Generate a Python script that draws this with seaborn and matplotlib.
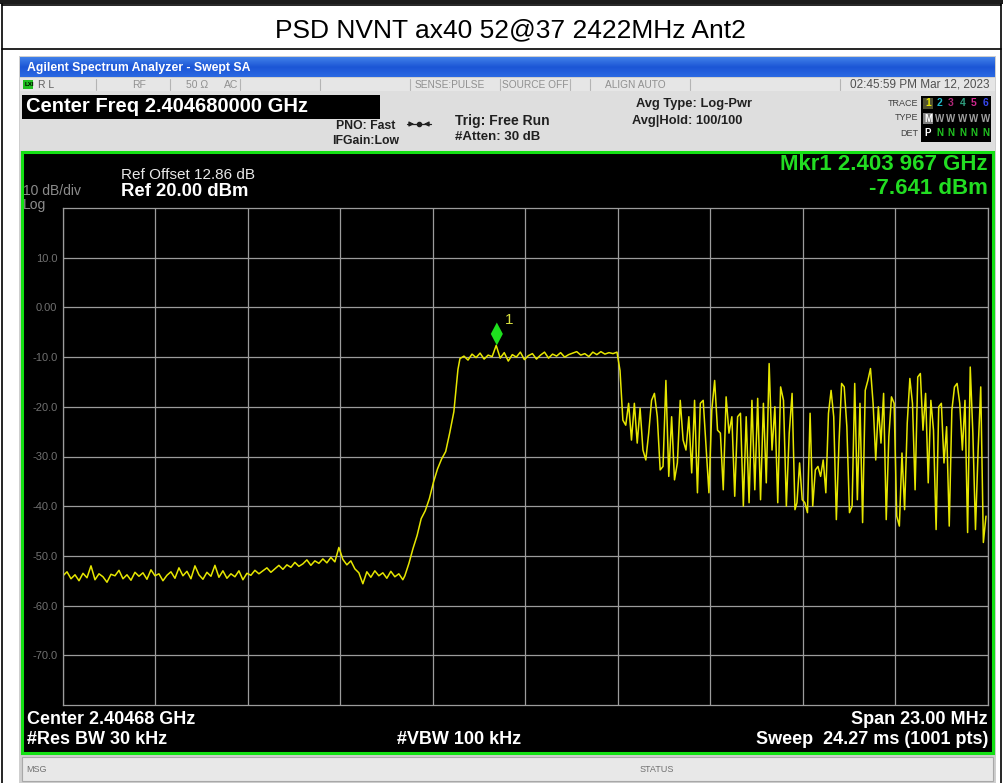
"""Agilent swept SA screenshot: PSD NVNT ax40 52@37 2422MHz Ant2"""
import numpy as np
import pandas as pd
import seaborn as sns
import matplotlib.pyplot as plt
from matplotlib.colors import LinearSegmentedColormap
from matplotlib.patches import Rectangle, Polygon

# ---- instrument settings / readouts
center_ghz = 2.40468
span_mhz = 23.0
ref_dbm = 20.0
db_per_div = 10.0
mkr_freq_ghz = 2.403967
mkr_dbm = -7.641
ytick_vals = [10, 0, -10, -20, -30, -40, -50, -60, -70]
ytick_labels = ['10.0', '0.00', '-10.0', '-20.0', '-30.0', '-40.0', '-50.0', '-60.0', '-70.0']

# ---- trace (offset from center in MHz, level in dBm)
floor_mhz = (-11.5, -3.05)
floor_dbm = [-54.0, -53.2, -54.6, -53.8, -55.0, -53.5, -54.4, -52.0, -54.8, -53.6,
             -54.2, -55.3, -53.7, -54.0, -52.9, -54.6, -53.8, -54.9, -53.3, -54.1,
             -53.4, -54.7, -52.8, -54.0, -53.6, -55.0, -53.9, -53.2, -54.5, -52.4,
             -54.0, -53.1, -54.6, -52.0, -53.8, -54.7, -53.3, -54.1, -51.9, -54.3,
             -53.0, -54.5, -53.6, -54.2, -53.0, -54.8, -53.5, -53.9, -52.9, -53.6,
             -53.0, -52.4, -53.3, -52.6, -51.9, -52.7, -51.8, -52.3, -51.3, -52.1,
             -51.6, -50.8, -51.9, -51.0, -51.5, -50.6, -51.4, -50.3, -51.2, -48.3,
             -50.7, -51.8, -51.0, -52.6, -53.4, -55.6, -53.2, -54.3, -53.0, -54.0,
             -53.4, -54.5, -53.1, -54.2, -53.6, -54.8]
rise_mhz = (-3.0, -1.68)
rise_dbm = [-54.0, -51.5, -48.5, -45.9, -42.5, -40.9, -38.5, -35.2, -32.5, -30.5,
            -29.0, -25.2, -21.0, -12.5]
top_mhz = (-1.63, 2.275)
top_dbm = [-10.3, -9.8, -10.6, -9.4, -10.1, -9.2, -10.4, -9.6, -9.9, -7.641,
           -10.2, -9.1, -10.8, -9.5, -10.0, -9.0, -10.5, -9.7, -9.3, -10.4,
           -9.6, -9.0, -10.2, -9.4, -9.8, -9.1, -10.0, -9.5, -9.2, -8.9,
           -9.6, -9.3, -9.9, -9.0, -9.5, -8.9, -9.4, -9.1, -9.3, -9.0]
skirt1_mhz = (2.35, 6.70)
skirt1_dbm = [-12.7, -22.7, -23.7, -19.3, -26.7, -19.3, -27.3, -20.3, -28.7, -30.7,
              -25.3, -18.7, -17.3, -22.0, -32.7, -32.0, -14.7, -34.0, -22.0, -34.7,
              -31.3, -18.7, -26.7, -28.7, -22.0, -33.3, -18.7, -37.3, -19.3, -18.7,
              -28.0, -37.3, -20.7, -14.7, -24.7, -25.3, -36.7, -18.0, -25.3, -22.0,
              -38.0, -22.0, -21.3, -40.0, -22.0, -39.3, -18.7, -36.7, -18.3, -38.7,
              -19.3, -35.3, -11.3, -28.7, -20.0, -39.3, -16.0, -18.7, -40.0, -25.3,
              -17.3, -40.7]
skirt2_mhz = (6.75, 11.45)
skirt2_dbm = [-39.3, -31.3, -38.7, -39.3, -41.3, -21.3, -40.0, -32.7, -32.0, -34.0,
              -30.7, -37.3, -21.3, -16.7, -22.0, -42.7, -27.3, -15.3, -16.0, -24.0,
              -41.3, -40.0, -15.3, -38.7, -19.3, -43.3, -16.7, -14.7, -12.3, -19.3,
              -30.7, -20.0, -27.3, -17.3, -42.7, -26.0, -18.0, -19.3, -42.0, -44.0,
              -29.3, -40.7, -23.3, -14.3, -19.3, -36.7, -14.0, -13.3, -24.7, -17.3,
              -35.3, -18.7, -24.7, -44.7, -20.0, -19.3, -31.3, -24.0, -44.0, -20.7,
              -16.0, -15.3, -19.3, -28.7, -18.7, -45.3, -12.0, -25.3, -44.7, -28.7,
              -16.0, -47.3, -42.0]

segments = [(floor_mhz, floor_dbm), (rise_mhz, rise_dbm), (top_mhz, top_dbm),
            (skirt1_mhz, skirt1_dbm), (skirt2_mhz, skirt2_dbm)]
freq = np.concatenate([np.linspace(a, b, len(v)) for (a, b), v in segments])
level = np.concatenate([v for _, v in segments])
trace = pd.DataFrame({'offset_mhz': freq, 'dbm': level})

sns.set_theme(style='dark')
plt.rcParams['font.family'] = ['Liberation Sans', 'DejaVu Sans']

W, H = 1004, 783
fig = plt.figure(figsize=(W / 100, H / 100), dpi=100)
fig.patch.set_facecolor('white')
ui = fig.add_axes([0, 0, 1, 1])
ui.set_xlim(0, W)
ui.set_ylim(H, 0)
ui.axis('off')


def box(x0, y0, x1, y1, fc, ec='none', lw=0, z=1):
    ui.add_patch(Rectangle((x0, y0), x1 - x0, y1 - y0, fc=fc, ec=ec, lw=lw, zorder=z))


def txt(x, y, s, size=8, color='black', ha='left', weight='normal', **kw):
    ui.text(x, y, s, fontsize=size, color=color, ha=ha, va='center',
            fontweight=weight, zorder=5, **kw)


# document table around the screenshot
box(0, 0, W, 4, '#1c1c1c')
ui.plot([2, 2], [4, H], color='black', lw=1.2)
ui.plot([1001, 1001], [4, H], color='black', lw=1.2)
ui.plot([2, 1001], [5, 5], color='black', lw=1.2)
ui.plot([2, 1001], [49, 49], color='black', lw=1.2)
txt(510, 30, 'PSD NVNT ax40 52@37 2422MHz Ant2', size=19, ha='center')

# screenshot window
box(19, 56, 996, 783, '#cfcfcf')
grad = np.linspace(0, 1, 20)[:, None]
bar_cmap = LinearSegmentedColormap.from_list('bar', ['#3f7fe8', '#1c56d6', '#2a68e2'])
ui.imshow(grad, extent=(20, 995, 77, 57), cmap=bar_cmap, aspect='auto', zorder=2)
txt(27, 68, 'Agilent Spectrum Analyzer - Swept SA', size=8.8, color='white', weight='bold')

# status row
box(20, 78, 995, 91, '#e6e6e6')
for sx in [96, 170, 240, 320, 410, 500, 570, 590, 690, 840]:
    ui.plot([sx, sx], [79, 90], color='#b4b4b4', lw=0.8, zorder=3)
box(23, 80, 33, 89, '#20c020', z=3)
txt(24.5, 84.5, 'LXI', size=4.5, color='black', weight='bold')
txt(38, 84.5, 'R L', size=7.5, color='#606060')
txt(132, 84.5, 'RF', size=7.5, color='#909090')
txt(186, 84.5, '50 Ω', size=7.5, color='#909090')
txt(224, 84.5, 'AC', size=7.5, color='#909090')
txt(415, 84.5, 'SENSE:PULSE', size=7.3, color='#909090')
txt(502, 84.5, 'SOURCE OFF', size=7.3, color='#909090')
txt(605, 84.5, 'ALIGN AUTO', size=7.3, color='#909090')
txt(990, 84.5, '02:45:59 PM Mar 12, 2023', size=8.5, color='#505050', ha='right')

# header panel
box(20, 91, 995, 151, '#dedede')
box(22, 95, 380, 119, 'black', z=3)
txt(26, 107, 'Center Freq 2.404680000 GHz', size=14.5, color='white', weight='bold')
txt(336, 126, 'PNO: Fast', size=8.8, color='#202020', weight='bold')
txt(332, 141, 'IFGain:Low', size=8.8, color='#202020', weight='bold')
ui.plot([407, 431], [124, 124], color='#202020', lw=0.9, zorder=5)
ui.plot([419], [124], marker='o', ms=3, color='#202020', zorder=5)
ui.annotate('', xy=(417, 124), xytext=(407, 124),
            arrowprops=dict(arrowstyle='-|>', color='#202020', lw=0.9, mutation_scale=7), zorder=5)
ui.annotate('', xy=(421, 124), xytext=(431, 124),
            arrowprops=dict(arrowstyle='-|>', color='#202020', lw=0.9, mutation_scale=7), zorder=5)
txt(455, 121, 'Trig: Free Run', size=10, color='#202020', weight='bold')
txt(455, 137, '#Atten: 30 dB', size=9.5, color='#202020', weight='bold')
txt(636, 104, 'Avg Type: Log-Pwr', size=9.3, color='#202020', weight='bold')
txt(632, 121, 'Avg|Hold: 100/100', size=9.3, color='#202020', weight='bold')

box(921, 96, 991, 142, 'black', z=3)
txt(918, 103, 'TRACE', size=6.5, color='#404040', ha='right')
txt(918, 118, 'TYPE', size=6.5, color='#404040', ha='right')
txt(918, 133, 'DET', size=6.5, color='#404040', ha='right')
trace_digits = ['1', '2', '3', '4', '5', '6']
digit_colors = ['#e8e800', '#20b8c8', '#b02878', '#30a080', '#d02890', '#3848f0']
type_letters = ['M', 'W', 'W', 'W', 'W', 'W']
det_letters = ['P', 'N', 'N', 'N', 'N', 'N']
box(923, 98, 933, 109, '#505030', z=4)
box(923, 113, 933, 124, '#808080', z=4)
for i, (d, c, t, dt) in enumerate(zip(trace_digits, digit_colors, type_letters, det_letters)):
    cx = 928 + i * 11.5
    txt(cx, 103.5, d, size=7.5, color=c, ha='center', weight='bold')
    txt(cx, 118.5, t, size=7, color='white' if i == 0 else '#a0a0a0', ha='center', weight='bold')
    txt(cx, 133.5, dt, size=7, color='white' if i == 0 else '#20c020', ha='center', weight='bold')

# display area with green frame
box(22, 152, 993, 753, 'black', ec='#14e014', lw=2.2, z=2)
txt(121, 175, 'Ref Offset 12.86 dB', size=11, color='#e8e8e8')
txt(121, 192, 'Ref 20.00 dBm', size=13.3, color='white', weight='bold')
txt(23, 191, '10 dB/div', size=10, color='#8c8c8c')
txt(23, 205, 'Log', size=10, color='#8c8c8c')
txt(988, 165, 'Mkr1 2.403 967 GHz', size=16, color='#22dd22', ha='right', weight='bold')
txt(988, 188, f'{mkr_dbm:.3f} dBm', size=16, color='#22dd22', ha='right', weight='bold')
txt(27, 719, f'Center {center_ghz:.5f} GHz', size=13, color='white', weight='bold')
txt(27, 740, '#Res BW 30 kHz', size=13, color='white', weight='bold')
txt(397, 740, '#VBW 100 kHz', size=13, color='white', weight='bold')
txt(988, 719, f'Span {span_mhz:.2f} MHz', size=13, color='white', ha='right', weight='bold')
txt(988, 740, 'Sweep  24.27 ms (1001 pts)', size=13, color='white', ha='right', weight='bold')

# message bar
box(22, 757, 993, 781, '#e8e8e8', ec='#a8a8a8', lw=0.8, z=2)
txt(26, 769, 'MSG', size=6.5, color='#707070')
txt(640, 769, 'STATUS', size=6.5, color='#707070')

# ---- the trace graticule
ax = fig.add_axes([63 / W, (H - 705) / H, 925 / W, 497 / H])
ax.set_facecolor('black')
sns.lineplot(data=trace, x='offset_mhz', y='dbm', ax=ax, color='#e6e600',
             linewidth=1.1, estimator=None, sort=True)
ax.set_xlim(-span_mhz / 2, span_mhz / 2)
ax.set_ylim(ref_dbm - 10 * db_per_div, ref_dbm)
ax.set_xticks(np.linspace(-span_mhz / 2, span_mhz / 2, 11))
ax.set_yticks(ytick_vals)
ax.set_yticklabels(ytick_labels)
ax.tick_params(axis='x', length=0, labelbottom=False)
ax.tick_params(axis='y', length=0, pad=4, labelsize=8, labelcolor='#707070')
ax.grid(True, color='#9c9c9c', linewidth=0.9)
for sp in ax.spines.values():
    sp.set_visible(True)
    sp.set_color('#9c9c9c')
    sp.set_linewidth(0.9)
ax.set_xlabel('')
ax.set_ylabel('')

# marker 1
mkr_off = (mkr_freq_ghz - center_ghz) * 1000
dx = 0.15
ax.add_patch(Polygon([[mkr_off, mkr_dbm], [mkr_off + dx, mkr_dbm + 2.3],
                      [mkr_off, mkr_dbm + 4.6], [mkr_off - dx, mkr_dbm + 2.3]],
                     closed=True, fc='#1ee01e', ec='none', zorder=4))
ax.text(mkr_off + 0.2, mkr_dbm + 5.2, '1', color='#d8e040', fontsize=11, va='center')

fig.savefig('out.png', dpi=100, facecolor='white')
